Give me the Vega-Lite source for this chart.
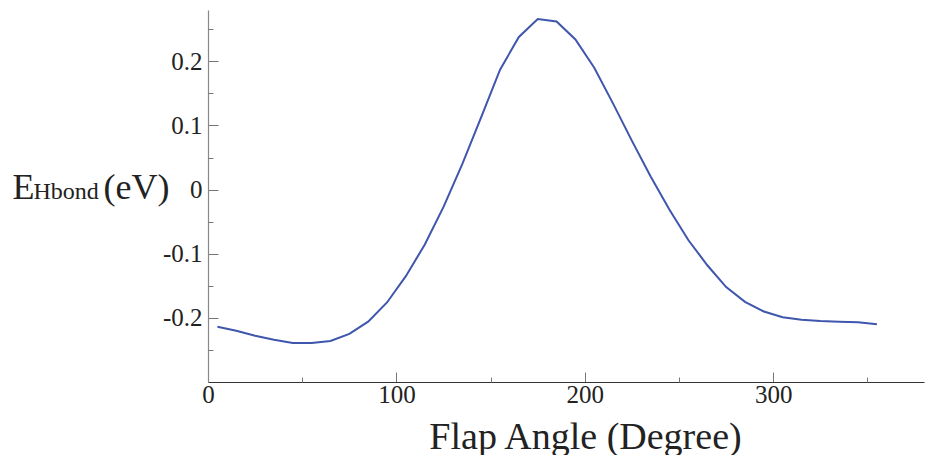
{
  "$schema": "https://vega.github.io/schema/vega-lite/v6.json",
  "autosize": "none",
  "width": 716,
  "height": 372,
  "padding": {"left": 208, "top": 10, "right": 2, "bottom": 73},
  "background": "white",
  "config": {"view": {"stroke": null}, "font": "Liberation Serif"},
  "data": {"values": [
    {"angle": 5, "energy": -0.214},
    {"angle": 15, "energy": -0.220},
    {"angle": 25, "energy": -0.228},
    {"angle": 35, "energy": -0.234},
    {"angle": 45, "energy": -0.239},
    {"angle": 55, "energy": -0.239},
    {"angle": 65, "energy": -0.236},
    {"angle": 75, "energy": -0.225},
    {"angle": 85, "energy": -0.206},
    {"angle": 95, "energy": -0.176},
    {"angle": 105, "energy": -0.135},
    {"angle": 115, "energy": -0.086},
    {"angle": 125, "energy": -0.027},
    {"angle": 135, "energy": 0.040},
    {"angle": 145, "energy": 0.113},
    {"angle": 155, "energy": 0.187},
    {"angle": 165, "energy": 0.238},
    {"angle": 175, "energy": 0.266},
    {"angle": 185, "energy": 0.262},
    {"angle": 195, "energy": 0.234},
    {"angle": 205, "energy": 0.190},
    {"angle": 215, "energy": 0.134},
    {"angle": 225, "energy": 0.076},
    {"angle": 235, "energy": 0.020},
    {"angle": 245, "energy": -0.032},
    {"angle": 255, "energy": -0.079},
    {"angle": 265, "energy": -0.118},
    {"angle": 275, "energy": -0.152},
    {"angle": 285, "energy": -0.175},
    {"angle": 295, "energy": -0.190},
    {"angle": 305, "energy": -0.199},
    {"angle": 315, "energy": -0.203},
    {"angle": 325, "energy": -0.205},
    {"angle": 335, "energy": -0.206},
    {"angle": 345, "energy": -0.207},
    {"angle": 355, "energy": -0.210}
  ]},
  "layer": [
    {
      "mark": {"type": "line", "color": "#3F56AD", "strokeWidth": 2},
      "encoding": {
        "x": {
          "field": "angle", "type": "quantitative",
          "scale": {"domain": [0, 380], "nice": false, "zero": false},
          "axis": {
            "orient": "bottom", "values": [0, 100, 200, 300], "grid": false,
            "tickSize": -10, "tickColor": "#777", "tickWidth": 1,
            "domainColor": "#333", "domainWidth": 1.2,
            "labelFont": "Liberation Serif", "labelFontSize": 25, "labelColor": "#222", "labelPadding": 10,
            "labelFlush": false,
            "title": "Flap Angle (Degree)", "titleFont": "Liberation Serif", "titleFontSize": 38,
            "titleFontWeight": "normal", "titleColor": "#222",
            "titleX": 377, "titleY": 66, "titleBaseline": "alphabetic", "titleAlign": "center"
          }
        },
        "y": {
          "field": "energy", "type": "quantitative",
          "scale": {"domain": [-0.3, 0.28], "nice": false, "zero": false},
          "axis": {
            "orient": "left", "values": [-0.2, -0.1, 0, 0.1, 0.2], "grid": false,
            "tickSize": -10, "tickColor": "#777", "tickWidth": 1,
            "domainColor": "#888", "domainWidth": 1.2,
            "labelExpr": "datum.value < 0 ? '-' + format(-datum.value, '~g') : format(datum.value, '~g')",
            "labelFont": "Liberation Serif", "labelFontSize": 25, "labelColor": "#222", "labelPadding": 16,
            "labelFlush": false,
            "title": "E", "titleFont": "Liberation Serif", "titleFontSize": 36,
            "titleFontWeight": "normal", "titleColor": "#222", "titleAngle": 0,
            "titleX": -196, "titleY": 188, "titleBaseline": "alphabetic", "titleAlign": "left"
          }
        }
      }
    },
    {
      "mark": {"type": "line", "opacity": 0},
      "encoding": {
        "x": {
          "field": "angle", "type": "quantitative",
          "axis": {
            "orient": "bottom", "values": [50, 150, 250, 350], "grid": false,
            "tickSize": -5, "tickColor": "#777", "labels": false, "domain": false, "title": null
          }
        },
        "y": {
          "field": "energy", "type": "quantitative",
          "axis": {
            "orient": "left", "values": [-0.25, -0.15, -0.05, 0.05, 0.15, 0.25], "grid": false,
            "tickSize": -5, "tickColor": "#777", "labels": false, "domain": false,
            "title": "(eV)", "titleFont": "Liberation Serif", "titleFontSize": 36,
            "titleFontWeight": "normal", "titleColor": "#222", "titleAngle": 0,
            "titleX": -105, "titleY": 188, "titleBaseline": "alphabetic", "titleAlign": "left"
          }
        }
      }
    },
    {
      "mark": {"type": "line", "opacity": 0},
      "encoding": {
        "x": {
          "field": "angle", "type": "quantitative",
          "axis": {
            "orient": "top", "values": [], "grid": false, "ticks": false, "labels": false, "domain": false,
            "title": "Hbond", "titleFont": "Liberation Serif", "titleFontSize": 24,
            "titleFontWeight": "normal", "titleColor": "#222", "titleAngle": 0,
            "titleX": -175, "titleY": 188, "titleBaseline": "alphabetic", "titleAlign": "left"
          }
        },
        "y": {"field": "energy", "type": "quantitative", "axis": null}
      }
    }
  ],
  "resolve": {"axis": {"x": "independent", "y": "independent"}}
}
